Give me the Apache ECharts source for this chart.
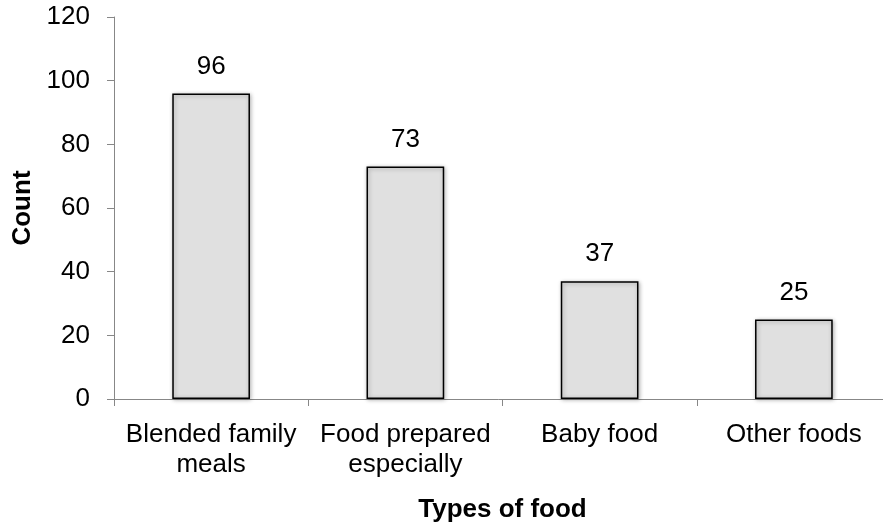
<!DOCTYPE html>
<html>
<head>
<meta charset="utf-8">
<script src="https://cdn.jsdelivr.net/npm/echarts@6/dist/echarts.min.js"></script>
<style>
  html, body { margin: 0; padding: 0; background: #ffffff; }
  #chart { width: 883px; height: 522px; }
</style>
</head>
<body>
<div id="chart"></div>
<script>
// Food types and how many times each was reported
const categories = ['Blended family\nmeals', 'Food prepared\nespecially', 'Baby food', 'Other foods'];
const counts = [96, 73, 37, 25];
const yTicks = { min: 0, max: 120, interval: 20 };

const FONT = '"Liberation Sans", Arial, Helvetica, sans-serif';
const AXIS_GREY = '#878787';
const FS = 26;

const chart = echarts.init(document.getElementById('chart'), null, { renderer: 'canvas' });

chart.setOption({
  animation: false,
  backgroundColor: '#ffffff',
  grid: {
    left: 114, right: -8, top: 17, bottom: 123,
    containLabel: false,
    outerBoundsMode: 'none'
  },
  xAxis: {
    type: 'category',
    data: categories,
    name: 'Types of food',
    nameLocation: 'middle',
    nameGap: 98,
    nameTextStyle: { fontFamily: FONT, fontSize: FS, fontWeight: 'bold', color: '#000' },
    axisLine: { lineStyle: { color: AXIS_GREY, width: 1 } },
    axisTick: { show: true, alignWithLabel: false, length: 7, lineStyle: { color: AXIS_GREY } },
    axisLabel: {
      interval: 0, margin: 21, color: '#000',
      fontFamily: FONT, fontSize: FS, lineHeight: 30
    }
  },
  yAxis: {
    type: 'value',
    min: yTicks.min, max: yTicks.max, interval: yTicks.interval,
    name: 'Count',
    nameLocation: 'middle',
    nameGap: 76,
    nameRotate: 90,
    nameTextStyle: { fontFamily: FONT, fontSize: FS, fontWeight: 'bold', color: '#000' },
    axisLine: { show: true, lineStyle: { color: AXIS_GREY, width: 1 } },
    axisTick: { show: true, length: 7, lineStyle: { color: AXIS_GREY } },
    splitLine: { show: false },
    axisLabel: { margin: 24, color: '#000', fontFamily: FONT, fontSize: FS }
  },
  series: [{
    type: 'bar',
    data: counts,
    barWidth: '40%',
    itemStyle: {
      color: '#e0e0e0',
      borderColor: '#000',
      borderWidth: 1.5,
      shadowColor: 'rgba(0,0,0,0.3)',
      shadowBlur: 4,
      shadowOffsetX: 1,
      shadowOffsetY: 1
    },
    label: {
      show: true, position: 'top', distance: 14,
      color: '#000', fontFamily: FONT, fontSize: FS
    }
  }]
});
</script>
</body>
</html>
